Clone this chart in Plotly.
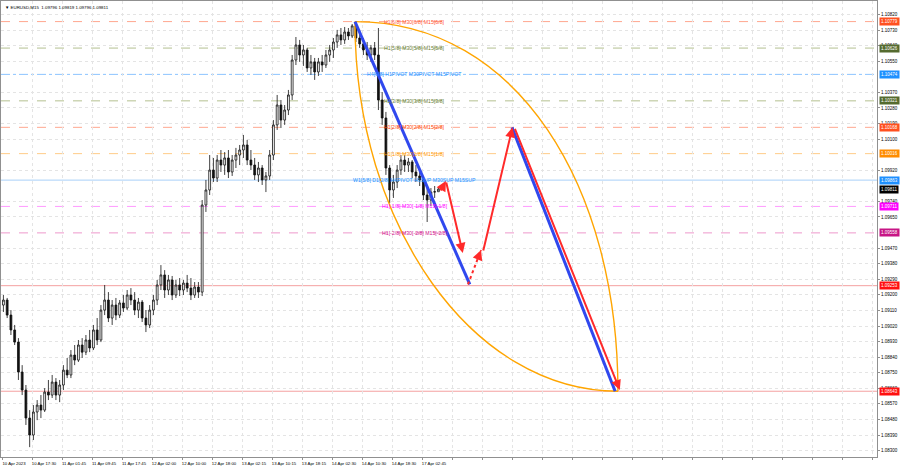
import plotly.graph_objects as go

# ---------------- DATA ----------------
# EURUSD M15, shown aggregated 4 bars per candle
opens = [1.09141, 1.09170, 1.09083, 1.08997, 1.08927, 1.08754, 1.08650, 1.08488, 1.08390, 1.08523,
         1.08563, 1.08534, 1.08638, 1.08621, 1.08696, 1.08621, 1.08679, 1.08765, 1.08737, 1.08852,
         1.08823, 1.08910, 1.08869, 1.08939, 1.08893, 1.08997, 1.08939, 1.09112, 1.09170, 1.09066,
         1.09141, 1.09083, 1.09153, 1.09124, 1.09199, 1.09170, 1.09112, 1.09158, 1.09066, 1.09026,
         1.09112, 1.09170, 1.09257, 1.09315, 1.09228, 1.09286, 1.09199, 1.09257, 1.09228, 1.09268,
         1.09239, 1.09199, 1.09245, 1.09216, 1.09719, 1.09806, 1.09921, 1.09875, 1.09979, 1.09950,
         1.09991, 1.09910, 1.09979, 1.10008, 1.10037, 1.10066, 1.09979, 1.09950, 1.09893, 1.09933,
         1.09864, 1.09887, 1.10008, 1.10182, 1.10297, 1.10210, 1.10268, 1.10355, 1.10557, 1.10644,
         1.10586, 1.10615, 1.10511, 1.10546, 1.10488, 1.10546, 1.10528, 1.10586, 1.10615, 1.10661,
         1.10702, 1.10673, 1.10719, 1.10696, 1.10754, 1.10684, 1.10650, 1.10615, 1.10586, 1.10627,
         1.10586, 1.10326, 1.10222, 1.09933, 1.09806, 1.09852, 1.09921, 1.09979, 1.09950, 1.09968,
         1.09910, 1.09887, 1.09864, 1.09777, 1.09748, 1.09794, 1.09796]
highs = [1.09199, 1.09182, 1.09112, 1.09026, 1.08950, 1.08794, 1.08679, 1.08534, 1.08563, 1.08592,
         1.08621, 1.08661, 1.08708, 1.08737, 1.08719, 1.08708, 1.08794, 1.08835, 1.08881, 1.08910,
         1.08939, 1.08950, 1.08968, 1.08997, 1.09026, 1.09066, 1.09141, 1.09257, 1.09216, 1.09170,
         1.09182, 1.09170, 1.09199, 1.09228, 1.09239, 1.09216, 1.09182, 1.09170, 1.09112, 1.09141,
         1.09199, 1.09286, 1.09372, 1.09343, 1.09315, 1.09309, 1.09286, 1.09297, 1.09286, 1.09315,
         1.09297, 1.09274, 1.09274, 1.09748, 1.09864, 1.10008, 1.09991, 1.10008, 1.10037, 1.10025,
         1.10037, 1.10008, 1.10049, 1.10066, 1.10124, 1.10095, 1.10037, 1.09991, 1.09968, 1.09950,
         1.09910, 1.10037, 1.10210, 1.10355, 1.10326, 1.10297, 1.10384, 1.10586, 1.10690, 1.10673,
         1.10644, 1.10627, 1.10586, 1.10569, 1.10569, 1.10586, 1.10615, 1.10644, 1.10684, 1.10731,
         1.10742, 1.10748, 1.10742, 1.10765, 1.10779, 1.10731, 1.10684, 1.10661, 1.10644, 1.10661,
         1.10742, 1.10372, 1.10257, 1.09950, 1.09893, 1.09950, 1.10008, 1.10008, 1.09991, 1.09979,
         1.09950, 1.09921, 1.09875, 1.09817, 1.09817, 1.09829, 1.09819]
lows = [1.09101, 1.09066, 1.08968, 1.08910, 1.08708, 1.08621, 1.08448, 1.08320, 1.08361, 1.08476,
        1.08488, 1.08523, 1.08592, 1.08604, 1.08592, 1.08580, 1.08650, 1.08719, 1.08719, 1.08794,
        1.08812, 1.08835, 1.08852, 1.08869, 1.08881, 1.08910, 1.08927, 1.09083, 1.09043, 1.09026,
        1.09054, 1.09066, 1.09101, 1.09112, 1.09141, 1.09083, 1.09066, 1.09043, 1.08985, 1.09008,
        1.09083, 1.09141, 1.09228, 1.09182, 1.09199, 1.09170, 1.09182, 1.09193, 1.09199, 1.09216,
        1.09170, 1.09182, 1.09182, 1.09193, 1.09679, 1.09777, 1.09852, 1.09852, 1.09910, 1.09893,
        1.09875, 1.09887, 1.09933, 1.09950, 1.09991, 1.09950, 1.09921, 1.09864, 1.09852, 1.09835,
        1.09794, 1.09864, 1.09979, 1.10153, 1.10164, 1.10182, 1.10239, 1.10326, 1.10528, 1.10546,
        1.10523, 1.10488, 1.10471, 1.10442, 1.10465, 1.10488, 1.10511, 1.10546, 1.10569, 1.10627,
        1.10644, 1.10650, 1.10673, 1.10684, 1.10661, 1.10627, 1.10586, 1.10557, 1.10546, 1.10557,
        1.10268, 1.10182, 1.09893, 1.09731, 1.09760, 1.09817, 1.09893, 1.09910, 1.09910, 1.09875,
        1.09852, 1.09829, 1.09748, 1.09621, 1.09713, 1.09760, 1.09796]
closes = [1.09170, 1.09083, 1.08997, 1.08927, 1.08754, 1.08650, 1.08488, 1.08390, 1.08523, 1.08563,
          1.08534, 1.08638, 1.08621, 1.08696, 1.08621, 1.08679, 1.08765, 1.08737, 1.08852, 1.08823,
          1.08910, 1.08869, 1.08939, 1.08893, 1.08997, 1.08939, 1.09112, 1.09170, 1.09066, 1.09141,
          1.09083, 1.09153, 1.09124, 1.09199, 1.09170, 1.09112, 1.09158, 1.09066, 1.09026, 1.09112,
          1.09170, 1.09257, 1.09315, 1.09228, 1.09286, 1.09199, 1.09257, 1.09228, 1.09268, 1.09239,
          1.09199, 1.09245, 1.09216, 1.09719, 1.09806, 1.09921, 1.09875, 1.09979, 1.09950, 1.09991,
          1.09910, 1.09979, 1.10008, 1.10037, 1.10066, 1.09979, 1.09950, 1.09893, 1.09933, 1.09864,
          1.09887, 1.10008, 1.10182, 1.10297, 1.10210, 1.10268, 1.10355, 1.10557, 1.10644, 1.10586,
          1.10615, 1.10511, 1.10546, 1.10488, 1.10546, 1.10528, 1.10586, 1.10615, 1.10661, 1.10702,
          1.10673, 1.10719, 1.10696, 1.10754, 1.10684, 1.10650, 1.10615, 1.10586, 1.10627, 1.10586,
          1.10326, 1.10222, 1.09933, 1.09806, 1.09852, 1.09921, 1.09979, 1.09950, 1.09968, 1.09910,
          1.09887, 1.09864, 1.09777, 1.09748, 1.09794, 1.09796, 1.09811]

BARS_PER_CANDLE = 4
time_labels = ["10 Apr 2023", "10 Apr 17:30", "11 Apr 01:45", "11 Apr 09:45", "11 Apr 17:45",
               "12 Apr 02:00", "12 Apr 10:00", "12 Apr 18:00", "13 Apr 02:15", "13 Apr 10:15",
               "13 Apr 18:15", "14 Apr 02:30", "14 Apr 10:30", "14 Apr 18:30", "17 Apr 02:45"]
BARS_PER_LABEL = 32

# right price-scale tick labels (those hidden behind level boxes are left out)
price_ticks = [1.08300, 1.08390, 1.08480, 1.08570, 1.08660, 1.08750, 1.08840, 1.08930,
               1.09020, 1.09110, 1.09200, 1.09290, 1.09380, 1.09470, 1.09650, 1.09740,
               1.09920, 1.10100, 1.10190, 1.10280, 1.10370, 1.10550, 1.10640, 1.10730, 1.10820]

# Murrey-math levels
levels = [1.10779, 1.10626, 1.10474, 1.10321, 1.10168, 1.10016, 1.09863, 1.09711, 1.09558]
level_texts = ["H1[6/8] M30[6/8] M15[6/8]", "H1[5/8] M30[5/8] M15[5/8]",
               "H4[6/8] H1PIVOT M30PIVOT M15PIVOT", "H1[3/8] M30[3/8] M15[3/8]",
               "H1[2/8] M30[2/8] M15[2/8]", "H1[1/8] M30[1/8] M15[1/8]",
               "W1[5/8] D1[2/8] H4PIVOT H1SUP M30SUP M15SUP",
               "H1[-1/8] M30[-1/8] M15[-1/8]", "H1[-2/8] M30[-2/8] M15[-2/8]"]
level_line_colors = ["#FFA890", "#B4C090", "#8CC4FF", "#B4C090", "#FFA890", "#FFCC88",
                     "#A8D0F8", "#FF99FF", "#EE99CC"]
level_text_colors = ["#FF5533", "#6B7F3A", "#1E90FF", "#6B7F3A", "#FF4500", "#FF9900",
                     "#1E90FF", "#FF00FF", "#D0108A"]
level_box_colors = ["#FF5020", "#556B2F", "#1E90FF", "#556B2F", "#FF5020", "#FF8C00",
                    "#1E90FF", "#FF00FF", "#C71585"]
level_dashes = ["dash", "dash", "dashdot", "dash", "dash", "dash", "solid", "dash", "dash"]
level_label_bar = 440

target_levels = [1.09253, 1.08643]
last_price = 1.09811
header_text = "▼ EURUSD,M15  1.09796 1.09819 1.09796 1.09811"

# projection drawing (bar index, price)
blue_legs = [((376.5, 1.10779), (499, 1.09260)), ((544, 1.10168), (654, 1.08643))]
red_arrows = [((467, 1.09794), (473.5, 1.09858)), ((473.5, 1.09858), (491.5, 1.09442)),
              ((513, 1.09447), (544.5, 1.10168)), ((546.5, 1.10168), (659, 1.08650))]
red_dotted = ((497, 1.09260), (511, 1.09459))
arc_start = (376.5, 1.10779)
arc_end = (657, 1.08643)

# ---------------- FIGURE ----------------
FONT = "Liberation Sans"
candle_x = [BARS_PER_CANDLE * k + 1.5 for k in range(len(closes))]

fig = go.Figure()
fig.add_trace(go.Candlestick(
    x=candle_x, open=opens, high=highs, low=lows, close=closes,
    increasing=dict(line=dict(color="#111111", width=0.8), fillcolor="#FFFFFF"),
    decreasing=dict(line=dict(color="#111111", width=0.8), fillcolor="#111111"),
    whiskerwidth=0, hoverinfo="skip", showlegend=False))

shapes = []
annotations = []

# level lines + labels + right side boxes
for lv, txt, lc, tc, bc, ds in zip(levels, level_texts, level_line_colors, level_text_colors,
                                   level_box_colors, level_dashes):
    shapes.append(dict(type="line", xref="paper", x0=0, x1=1, yref="y", y0=lv, y1=lv,
                       line=dict(color=lc, width=1, dash=ds), layer="below"))
    annotations.append(dict(x=level_label_bar, y=lv, xref="x", yref="y", text=txt,
                            showarrow=False, xanchor="center", yanchor="middle",
                            font=dict(family=FONT, size=5.2, color=tc)))
    annotations.append(dict(x=1, y=lv, xref="paper", yref="y", text=f"{lv:.5f}",
                            showarrow=False, xanchor="left", yanchor="middle", xshift=2,
                            bgcolor=bc, borderpad=1,
                            font=dict(family=FONT, size=4.5, color="white")))

for lv in target_levels:
    shapes.append(dict(type="line", xref="paper", x0=0, x1=1, yref="y", y0=lv, y1=lv,
                       line=dict(color="#F4A0A0", width=1), layer="below"))
    annotations.append(dict(x=1, y=lv, xref="paper", yref="y", text=f"{lv:.5f}",
                            showarrow=False, xanchor="left", yanchor="middle", xshift=2,
                            bgcolor="#FF1010", borderpad=1,
                            font=dict(family=FONT, size=4.5, color="white")))

annotations.append(dict(x=1, y=last_price, xref="paper", yref="y", text=f"{last_price:.5f}",
                        showarrow=False, xanchor="left", yanchor="middle", xshift=2,
                        bgcolor="#000000", borderpad=1,
                        font=dict(family=FONT, size=4.5, color="white")))

# orange arcs (bezier approximations of the two elliptic arcs)
K = 0.5523
(x0, y0), (x3, y3) = arc_start, arc_end
right_arc = (f"M {x0},{y0} C {x0 + 0.62 * (x3 - x0)},{y0} {x3},{y3 + K * (y0 - y3)} {x3},{y3}")
left_arc = (f"M {x0},{y0} C {x0},{y0 - K * (y0 - y3)} {x3 - K * (x3 - x0)},{y3} {x3},{y3}")
for p in (right_arc, left_arc):
    shapes.append(dict(type="path", path=p, xref="x", yref="y",
                       line=dict(color="#FFA500", width=1.4), layer="above"))

# blue legs
for (a, b) in blue_legs:
    shapes.append(dict(type="line", xref="x", yref="y", x0=a[0], y0=a[1], x1=b[0], y1=b[1],
                       line=dict(color="#3048EE", width=3), layer="above"))

# red arrows
RED = "#FF2A2A"
for (a, b) in red_arrows:
    annotations.append(dict(x=b[0], y=b[1], ax=a[0], ay=a[1], xref="x", yref="y",
                            axref="x", ayref="y", text="", showarrow=True, arrowhead=2,
                            arrowsize=1, arrowwidth=2, arrowcolor=RED, standoff=0))

(da, db) = red_dotted
shapes.append(dict(type="line", xref="x", yref="y", x0=da[0], y0=da[1], x1=db[0], y1=db[1],
                   line=dict(color=RED, width=2, dash="dot"), layer="above"))
annotations.append(dict(x=db[0], y=db[1], ax=db[0] - 0.3 * (db[0] - da[0]),
                        ay=db[1] - 0.3 * (db[1] - da[1]), xref="x", yref="y",
                        axref="x", ayref="y", text="", showarrow=True, arrowhead=2,
                        arrowsize=1, arrowwidth=2, arrowcolor=RED, standoff=0))

# header
annotations.append(dict(x=0, y=1, xref="paper", yref="paper", text=header_text,
                        showarrow=False, xanchor="left", yanchor="top", xshift=2, yshift=-2,
                        font=dict(family=FONT, size=4.4, color="black")))

n_grid = 30
tickvals = [BARS_PER_LABEL * k for k in range(n_grid)]
ticktext = [time_labels[k] if k < len(time_labels) else "" for k in range(n_grid)]

bar_px = 0.9375
plot_w = 876
x_min = -1 / bar_px
x_max = x_min + plot_w / bar_px

fig.update_layout(
    width=900, height=468,
    margin=dict(l=1, r=23, t=1, b=11),
    paper_bgcolor="white", plot_bgcolor="white",
    showlegend=False,
    font=dict(family=FONT, size=4.5, color="black"),
    shapes=shapes, annotations=annotations,
    xaxis=dict(range=[x_min, x_max], tickvals=tickvals, ticktext=ticktext,
               tickfont=dict(family=FONT, size=4.3, color="black"), ticklabelshift=12,
               showgrid=True, gridcolor="#E4E4E4", griddash="dot", gridwidth=1,
               showline=True, linecolor="#909090", mirror=True, ticks="outside",
               ticklen=2, tickcolor="#909090", zeroline=False,
               rangeslider=dict(visible=False), fixedrange=True),
    yaxis=dict(side="right", range=[1.08263, 1.10898], tickmode="array",
               tickvals=price_ticks, ticktext=[f"{v:.5f}" for v in price_ticks],
               tickfont=dict(family=FONT, size=4.5, color="black"),
               showgrid=True, gridcolor="#E4E4E4", griddash="dot", gridwidth=1,
               showline=True, linecolor="#909090", mirror=True, ticks="outside",
               ticklen=2, tickcolor="#909090", zeroline=False, fixedrange=True),
)

fig.write_html("out.html", config={"displayModeBar": False},
               post_script="document.body.style.margin='0';document.body.style.overflow='hidden';")
